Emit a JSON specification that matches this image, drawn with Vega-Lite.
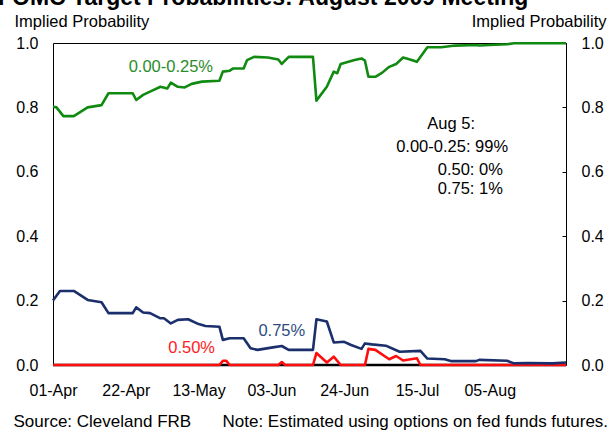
{
  "$schema": "https://vega.github.io/schema/vega-lite/v6.json",
  "width": 513,
  "height": 322,
  "autosize": {"type": "none"},
  "padding": {"left": 53, "top": 43, "right": 42, "bottom": 67},
  "background": "white",
  "title": {
    "text": "FOMC Target Probabilities: August 2009 Meeting",
    "anchor": "start",
    "frame": "group",
    "font": "Liberation Sans",
    "fontSize": 23,
    "fontWeight": "bold",
    "color": "#000000",
    "dx": -55,
    "offset": 3
  },
  "config": {
    "font": "Liberation Sans",
    "view": {"stroke": "#000000", "strokeWidth": 1},
    "axis": {
      "grid": false,
      "domain": false,
      "labelFont": "Liberation Sans",
      "labelFontSize": 16,
      "labelColor": "#000000",
      "titleFont": "Liberation Sans",
      "titleFontSize": 16,
      "titleFontWeight": "normal",
      "titleColor": "#000000"
    }
  },
  "datasets": {
    "probs": [
      {"date": "2009-04-01", "series": "Other", "value": 0},
      {"date": "2009-08-27", "series": "Other", "value": 0},

      {"date": "2009-04-01", "series": "0.50%", "value": 0},
      {"date": "2009-05-19", "series": "0.50%", "value": 0},
      {"date": "2009-05-20", "series": "0.50%", "value": 0.013},
      {"date": "2009-05-21", "series": "0.50%", "value": 0.013},
      {"date": "2009-05-22", "series": "0.50%", "value": 0},
      {"date": "2009-06-05", "series": "0.50%", "value": 0},
      {"date": "2009-06-06", "series": "0.50%", "value": 0.009},
      {"date": "2009-06-07", "series": "0.50%", "value": 0},
      {"date": "2009-06-15", "series": "0.50%", "value": 0},
      {"date": "2009-06-16", "series": "0.50%", "value": 0.037},
      {"date": "2009-06-19", "series": "0.50%", "value": 0.008},
      {"date": "2009-06-21", "series": "0.50%", "value": 0.026},
      {"date": "2009-06-23", "series": "0.50%", "value": 0},
      {"date": "2009-06-30", "series": "0.50%", "value": 0},
      {"date": "2009-07-01", "series": "0.50%", "value": 0.05},
      {"date": "2009-07-03", "series": "0.50%", "value": 0.047},
      {"date": "2009-07-07", "series": "0.50%", "value": 0.018},
      {"date": "2009-07-09", "series": "0.50%", "value": 0.028},
      {"date": "2009-07-11", "series": "0.50%", "value": 0.014},
      {"date": "2009-07-15", "series": "0.50%", "value": 0.021},
      {"date": "2009-07-16", "series": "0.50%", "value": 0},
      {"date": "2009-08-27", "series": "0.50%", "value": 0},

      {"date": "2009-04-01", "series": "0.75%", "value": 0.200},
      {"date": "2009-04-03", "series": "0.75%", "value": 0.230},
      {"date": "2009-04-07", "series": "0.75%", "value": 0.230},
      {"date": "2009-04-11", "series": "0.75%", "value": 0.202},
      {"date": "2009-04-15", "series": "0.75%", "value": 0.195},
      {"date": "2009-04-17", "series": "0.75%", "value": 0.161},
      {"date": "2009-04-24", "series": "0.75%", "value": 0.161},
      {"date": "2009-04-25", "series": "0.75%", "value": 0.179},
      {"date": "2009-04-27", "series": "0.75%", "value": 0.163},
      {"date": "2009-04-29", "series": "0.75%", "value": 0.161},
      {"date": "2009-05-02", "series": "0.75%", "value": 0.145},
      {"date": "2009-05-03", "series": "0.75%", "value": 0.145},
      {"date": "2009-05-05", "series": "0.75%", "value": 0.129},
      {"date": "2009-05-07", "series": "0.75%", "value": 0.140},
      {"date": "2009-05-10", "series": "0.75%", "value": 0.142},
      {"date": "2009-05-13", "series": "0.75%", "value": 0.127},
      {"date": "2009-05-15", "series": "0.75%", "value": 0.121},
      {"date": "2009-05-19", "series": "0.75%", "value": 0.119},
      {"date": "2009-05-20", "series": "0.75%", "value": 0.078},
      {"date": "2009-05-22", "series": "0.75%", "value": 0.083},
      {"date": "2009-05-26", "series": "0.75%", "value": 0.083},
      {"date": "2009-05-28", "series": "0.75%", "value": 0.052},
      {"date": "2009-05-30", "series": "0.75%", "value": 0.047},
      {"date": "2009-06-03", "series": "0.75%", "value": 0.054},
      {"date": "2009-06-06", "series": "0.75%", "value": 0.059},
      {"date": "2009-06-08", "series": "0.75%", "value": 0.047},
      {"date": "2009-06-15", "series": "0.75%", "value": 0.047},
      {"date": "2009-06-16", "series": "0.75%", "value": 0.142},
      {"date": "2009-06-19", "series": "0.75%", "value": 0.135},
      {"date": "2009-06-21", "series": "0.75%", "value": 0.070},
      {"date": "2009-06-24", "series": "0.75%", "value": 0.072},
      {"date": "2009-06-26", "series": "0.75%", "value": 0.062},
      {"date": "2009-06-29", "series": "0.75%", "value": 0.050},
      {"date": "2009-06-30", "series": "0.75%", "value": 0.067},
      {"date": "2009-07-02", "series": "0.75%", "value": 0.064},
      {"date": "2009-07-06", "series": "0.75%", "value": 0.060},
      {"date": "2009-07-10", "series": "0.75%", "value": 0.041},
      {"date": "2009-07-16", "series": "0.75%", "value": 0.044},
      {"date": "2009-07-18", "series": "0.75%", "value": 0.020},
      {"date": "2009-07-23", "series": "0.75%", "value": 0.018},
      {"date": "2009-07-25", "series": "0.75%", "value": 0.012},
      {"date": "2009-08-01", "series": "0.75%", "value": 0.012},
      {"date": "2009-08-02", "series": "0.75%", "value": 0.016},
      {"date": "2009-08-10", "series": "0.75%", "value": 0.013},
      {"date": "2009-08-12", "series": "0.75%", "value": 0.005},
      {"date": "2009-08-16", "series": "0.75%", "value": 0.006},
      {"date": "2009-08-23", "series": "0.75%", "value": 0.005},
      {"date": "2009-08-27", "series": "0.75%", "value": 0.008},

      {"date": "2009-04-01", "series": "0.00-0.25%", "value": 0.802},
      {"date": "2009-04-02", "series": "0.00-0.25%", "value": 0.800},
      {"date": "2009-04-04", "series": "0.00-0.25%", "value": 0.773},
      {"date": "2009-04-07", "series": "0.00-0.25%", "value": 0.773},
      {"date": "2009-04-11", "series": "0.00-0.25%", "value": 0.800},
      {"date": "2009-04-15", "series": "0.00-0.25%", "value": 0.807},
      {"date": "2009-04-17", "series": "0.00-0.25%", "value": 0.844},
      {"date": "2009-04-24", "series": "0.00-0.25%", "value": 0.844},
      {"date": "2009-04-25", "series": "0.00-0.25%", "value": 0.823},
      {"date": "2009-04-27", "series": "0.00-0.25%", "value": 0.839},
      {"date": "2009-04-29", "series": "0.00-0.25%", "value": 0.849},
      {"date": "2009-05-02", "series": "0.00-0.25%", "value": 0.864},
      {"date": "2009-05-04", "series": "0.00-0.25%", "value": 0.859},
      {"date": "2009-05-05", "series": "0.00-0.25%", "value": 0.877},
      {"date": "2009-05-07", "series": "0.00-0.25%", "value": 0.864},
      {"date": "2009-05-09", "series": "0.00-0.25%", "value": 0.862},
      {"date": "2009-05-11", "series": "0.00-0.25%", "value": 0.873},
      {"date": "2009-05-14", "series": "0.00-0.25%", "value": 0.880},
      {"date": "2009-05-19", "series": "0.00-0.25%", "value": 0.883},
      {"date": "2009-05-20", "series": "0.00-0.25%", "value": 0.911},
      {"date": "2009-05-22", "series": "0.00-0.25%", "value": 0.914},
      {"date": "2009-05-23", "series": "0.00-0.25%", "value": 0.921},
      {"date": "2009-05-26", "series": "0.00-0.25%", "value": 0.921},
      {"date": "2009-05-27", "series": "0.00-0.25%", "value": 0.947},
      {"date": "2009-05-29", "series": "0.00-0.25%", "value": 0.957},
      {"date": "2009-06-02", "series": "0.00-0.25%", "value": 0.955},
      {"date": "2009-06-05", "series": "0.00-0.25%", "value": 0.949},
      {"date": "2009-06-06", "series": "0.00-0.25%", "value": 0.935},
      {"date": "2009-06-08", "series": "0.00-0.25%", "value": 0.957},
      {"date": "2009-06-15", "series": "0.00-0.25%", "value": 0.957},
      {"date": "2009-06-16", "series": "0.00-0.25%", "value": 0.821},
      {"date": "2009-06-19", "series": "0.00-0.25%", "value": 0.864},
      {"date": "2009-06-21", "series": "0.00-0.25%", "value": 0.911},
      {"date": "2009-06-22", "series": "0.00-0.25%", "value": 0.906},
      {"date": "2009-06-23", "series": "0.00-0.25%", "value": 0.935},
      {"date": "2009-06-24", "series": "0.00-0.25%", "value": 0.938},
      {"date": "2009-06-27", "series": "0.00-0.25%", "value": 0.947},
      {"date": "2009-06-29", "series": "0.00-0.25%", "value": 0.952},
      {"date": "2009-06-30", "series": "0.00-0.25%", "value": 0.945},
      {"date": "2009-07-01", "series": "0.00-0.25%", "value": 0.895},
      {"date": "2009-07-03", "series": "0.00-0.25%", "value": 0.895},
      {"date": "2009-07-05", "series": "0.00-0.25%", "value": 0.908},
      {"date": "2009-07-07", "series": "0.00-0.25%", "value": 0.926},
      {"date": "2009-07-09", "series": "0.00-0.25%", "value": 0.935},
      {"date": "2009-07-11", "series": "0.00-0.25%", "value": 0.955},
      {"date": "2009-07-13", "series": "0.00-0.25%", "value": 0.949},
      {"date": "2009-07-15", "series": "0.00-0.25%", "value": 0.942},
      {"date": "2009-07-18", "series": "0.00-0.25%", "value": 0.987},
      {"date": "2009-07-22", "series": "0.00-0.25%", "value": 0.987},
      {"date": "2009-07-26", "series": "0.00-0.25%", "value": 0.992},
      {"date": "2009-08-01", "series": "0.00-0.25%", "value": 0.994},
      {"date": "2009-08-02", "series": "0.00-0.25%", "value": 0.992},
      {"date": "2009-08-05", "series": "0.00-0.25%", "value": 0.994},
      {"date": "2009-08-10", "series": "0.00-0.25%", "value": 0.996},
      {"date": "2009-08-12", "series": "0.00-0.25%", "value": 0.999},
      {"date": "2009-08-27", "series": "0.00-0.25%", "value": 0.999}
    ],
    "labels": [
      {"date": "2009-05-05", "value": 0.926, "label": "0.00-0.25%", "series": "0.00-0.25%"},
      {"date": "2009-06-06", "value": 0.106, "label": "0.75%", "series": "0.75%"},
      {"date": "2009-05-11", "value": 0.052, "label": "0.50%", "series": "0.50%"}
    ],
    "notes": [
      {"date": "2009-07-18", "value": 0.748, "label": "Aug 5:"},
      {"date": "2009-07-09", "value": 0.677, "label": "0.00-0.25: 99%"},
      {"date": "2009-07-21", "value": 0.606, "label": "0.50: 0%"},
      {"date": "2009-07-21", "value": 0.547, "label": "0.75: 1%"}
    ]
  },
  "resolve": {"axis": {"x": "independent", "y": "independent"}},
  "layer": [
    {
      "data": {"name": "probs"},
      "transform": [{"filter": "datum.series === 'Other'"}],
      "mark": {"type": "line", "color": "#000000", "strokeWidth": 2.6, "strokeJoin": "round"},
      "encoding": {
        "x": {
          "field": "date", "type": "temporal",
          "scale": {"type": "utc", "domain": [{"year": 2009, "month": 4, "date": 1, "utc": true}, {"year": 2009, "month": 8, "date": 27, "utc": true}]},
          "axis": {
            "orient": "bottom",
            "values": [
              {"year": 2009, "month": 4, "date": 1, "utc": true},
              {"year": 2009, "month": 4, "date": 22, "utc": true},
              {"year": 2009, "month": 5, "date": 13, "utc": true},
              {"year": 2009, "month": 6, "date": 3, "utc": true},
              {"year": 2009, "month": 6, "date": 24, "utc": true},
              {"year": 2009, "month": 7, "date": 15, "utc": true},
              {"year": 2009, "month": 8, "date": 5, "utc": true}
            ],
            "format": "%d-%b",
            "labelDx": -4,
            "labelFlush": false,
            "labelOverlap": false,
            "ticks": false,
            "labelPadding": 17,
            "title": "Source: Cleveland FRB",
            "titleFontSize": 17,
            "titleAlign": "left",
            "titleBaseline": "alphabetic",
            "titleX": -40,
            "titleY": 61
          }
        },
        "y": {
          "field": "value", "type": "quantitative",
          "scale": {"domain": [0, 1]},
          "axis": {
            "orient": "left",
            "values": [0, 0.2, 0.4, 0.6, 0.8, 1],
            "format": ".1f",
            "ticks": false,
            "labelPadding": 15,
            "title": "Implied Probability",
            "titleFontSize": 16.5,
            "titleAngle": 0,
            "titleAlign": "left",
            "titleBaseline": "alphabetic",
            "titleX": -39,
            "titleY": -17
          }
        }
      }
    },
    {
      "data": {"name": "probs"},
      "transform": [{"filter": "datum.series === '0.50%'"}],
      "mark": {"type": "line", "color": "#ff0d0d", "strokeWidth": 2.6, "strokeJoin": "round"},
      "encoding": {
        "x": {"field": "date", "type": "temporal", "axis": null},
        "y": {"field": "value", "type": "quantitative", "axis": null}
      }
    },
    {
      "data": {"name": "probs"},
      "transform": [{"filter": "datum.series === '0.75%'"}],
      "mark": {"type": "line", "color": "#1a2f6b", "strokeWidth": 2.6, "strokeJoin": "round"},
      "encoding": {
        "x": {"field": "date", "type": "temporal", "axis": null},
        "y": {"field": "value", "type": "quantitative", "axis": null}
      }
    },
    {
      "data": {"name": "probs"},
      "transform": [{"filter": "datum.series === '0.00-0.25%'"}],
      "mark": {"type": "line", "color": "#108a10", "strokeWidth": 2.6, "strokeJoin": "round"},
      "encoding": {
        "x": {"field": "date", "type": "temporal", "axis": null},
        "y": {"field": "value", "type": "quantitative", "axis": null}
      }
    },
    {
      "data": {"name": "labels"},
      "mark": {"type": "text", "font": "Liberation Sans", "fontSize": 16.5, "align": "center", "baseline": "middle"},
      "encoding": {
        "x": {
          "field": "date", "type": "temporal",
          "axis": {
            "orient": "bottom",
            "labels": false, "ticks": false, "domain": false,
            "title": "Note: Estimated using options on fed funds futures.",
            "titleFontSize": 17,
            "titleAlign": "left",
            "titleBaseline": "alphabetic",
            "titleX": 169,
            "titleY": 61
          }
        },
        "y": {
          "field": "value", "type": "quantitative",
          "axis": {
            "orient": "right",
            "values": [0, 0.2, 0.4, 0.6, 0.8, 1],
            "format": ".1f",
            "ticks": true,
            "tickSize": -4,
            "tickColor": "#000000",
            "labelPadding": 19,
            "title": "Implied Probability",
            "titleFontSize": 16.5,
            "titleAngle": 0,
            "titleAlign": "right",
            "titleBaseline": "alphabetic",
            "titleX": 40,
            "titleY": -17
          }
        },
        "text": {"field": "label", "type": "nominal"},
        "color": {
          "field": "series", "type": "nominal",
          "scale": {"domain": ["0.00-0.25%", "0.75%", "0.50%"], "range": ["#2a8c2a", "#2f4d80", "#ff2020"]},
          "legend": null
        }
      }
    },
    {
      "data": {"name": "notes"},
      "mark": {"type": "text", "font": "Liberation Sans", "fontSize": 16.5, "align": "left", "baseline": "middle", "color": "#000000"},
      "encoding": {
        "x": {"field": "date", "type": "temporal", "axis": null},
        "y": {"field": "value", "type": "quantitative", "axis": null},
        "text": {"field": "label", "type": "nominal"}
      }
    }
  ]
}
